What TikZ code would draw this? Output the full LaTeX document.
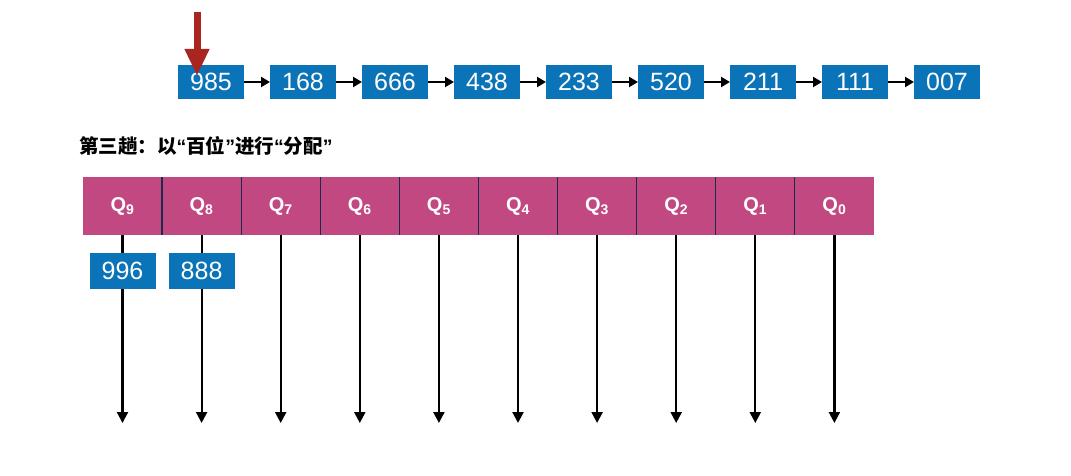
\documentclass[tikz,border=0pt]{standalone}
\usepackage{fontspec}
\setmainfont{Liberation Sans}
\newfontfamily\cjkfont{Noto Sans CJK SC}
\usepackage{tikz}
\usetikzlibrary{arrows.meta,positioning}
\definecolor{radixBlue}{HTML}{0B73B7}
\definecolor{radixPink}{HTML}{C14881}
\definecolor{radixRed}{HTML}{A8261F}
\definecolor{radixNavy}{HTML}{1C2B4C}
\newcommand{\openq}{{\rmfamily\bfseries “}}
\newcommand{\closeq}{{\rmfamily\bfseries ”}}
\tikzset{
  numbox/.style={
    rectangle,
    fill=radixBlue,
    text=white,
    inner sep=0pt,
    outer sep=0pt,
    minimum width=66pt,
    minimum height=34pt,
    font=\fontsize{25}{27}\selectfont
  },
  bucket/.style={
    rectangle,
    fill=radixPink,
    text=white,
    inner sep=0pt,
    outer sep=0pt,
    minimum width=79.1pt,
    minimum height=58pt,
    font=\fontsize{20}{22}\selectfont\bfseries
  },
  title/.style={font=\cjkfont\bfseries\fontsize{19.5}{21}\selectfont, inner sep=0pt},
  link/.style={-{Triangle[length=9pt,width=10pt]}, line width=2.2pt, draw=black},
  outflow/.style={-{Triangle[length=11pt,width=11pt]}, line width=2.2pt, draw=black},
  divider/.style={line width=1.2pt, draw=radixNavy},
  pointer/.style={-{Triangle[length=27pt,width=23pt]}, line width=7pt, draw=radixRed}
}
\begin{document}
\begin{tikzpicture}[x=1pt,y=-1pt,node distance=26pt]
  \useasboundingbox (0,0) rectangle (1071,476);
  % list before the third pass
  \node[numbox] (n985) at (211,82) {985};
  \node[numbox, right=of n985] (n168) {168};
  \node[numbox, right=of n168] (n666) {666};
  \node[numbox, right=of n666] (n438) {438};
  \node[numbox, right=of n438] (n233) {233};
  \node[numbox, right=of n233] (n520) {520};
  \node[numbox, right=of n520] (n211) {211};
  \node[numbox, right=of n211] (n111) {111};
  \node[numbox, right=of n111] (n007) {007};
  \draw[link] (n985) -- (n168);
  \draw[link] (n168) -- (n666);
  \draw[link] (n666) -- (n438);
  \draw[link] (n438) -- (n233);
  \draw[link] (n233) -- (n520);
  \draw[link] (n520) -- (n211);
  \draw[link] (n211) -- (n111);
  \draw[link] (n111) -- (n007);
  % current element
  \coordinate (ptrtop) at (197,12);
  \coordinate (ptrtip) at (197,76);
  \draw[pointer] (ptrtop) -- (ptrtip);
  \node[title, anchor=west] (pass3) at (79,146) {第三趟：以\openq 百位\closeq 进行\openq 分配\closeq};
  % queues
  \node[bucket] (q9) at (122.5,206) {Q\textsubscript{9}};
  \node[bucket, right=0pt of q9] (q8) {Q\textsubscript{8}};
  \node[bucket, right=0pt of q8] (q7) {Q\textsubscript{7}};
  \node[bucket, right=0pt of q7] (q6) {Q\textsubscript{6}};
  \node[bucket, right=0pt of q6] (q5) {Q\textsubscript{5}};
  \node[bucket, right=0pt of q5] (q4) {Q\textsubscript{4}};
  \node[bucket, right=0pt of q4] (q3) {Q\textsubscript{3}};
  \node[bucket, right=0pt of q3] (q2) {Q\textsubscript{2}};
  \node[bucket, right=0pt of q2] (q1) {Q\textsubscript{1}};
  \node[bucket, right=0pt of q1] (q0) {Q\textsubscript{0}};
  \draw[divider] (q9.north east) -- (q9.south east);
  \draw[divider] (q8.north east) -- (q8.south east);
  \draw[divider] (q7.north east) -- (q7.south east);
  \draw[divider] (q6.north east) -- (q6.south east);
  \draw[divider] (q5.north east) -- (q5.south east);
  \draw[divider] (q4.north east) -- (q4.south east);
  \draw[divider] (q3.north east) -- (q3.south east);
  \draw[divider] (q2.north east) -- (q2.south east);
  \draw[divider] (q1.north east) -- (q1.south east);
  \coordinate[below=188pt of q9] (out9);
  \coordinate[below=188pt of q8] (out8);
  \coordinate[below=188pt of q7] (out7);
  \coordinate[below=188pt of q6] (out6);
  \coordinate[below=188pt of q5] (out5);
  \coordinate[below=188pt of q4] (out4);
  \coordinate[below=188pt of q3] (out3);
  \coordinate[below=188pt of q2] (out2);
  \coordinate[below=188pt of q1] (out1);
  \coordinate[below=188pt of q0] (out0);
  \draw[outflow] (q9) -- (out9);
  \draw[outflow] (q8) -- (out8);
  \draw[outflow] (q7) -- (out7);
  \draw[outflow] (q6) -- (out6);
  \draw[outflow] (q5) -- (out5);
  \draw[outflow] (q4) -- (out4);
  \draw[outflow] (q3) -- (out3);
  \draw[outflow] (q2) -- (out2);
  \draw[outflow] (q1) -- (out1);
  \draw[outflow] (q0) -- (out0);
  % already distributed
  \node[numbox, minimum height=36pt, below=18pt of q9] (n996) {996};
  \node[numbox, minimum height=36pt, below=18pt of q8] (n888) {888};
\end{tikzpicture}
\end{document}
